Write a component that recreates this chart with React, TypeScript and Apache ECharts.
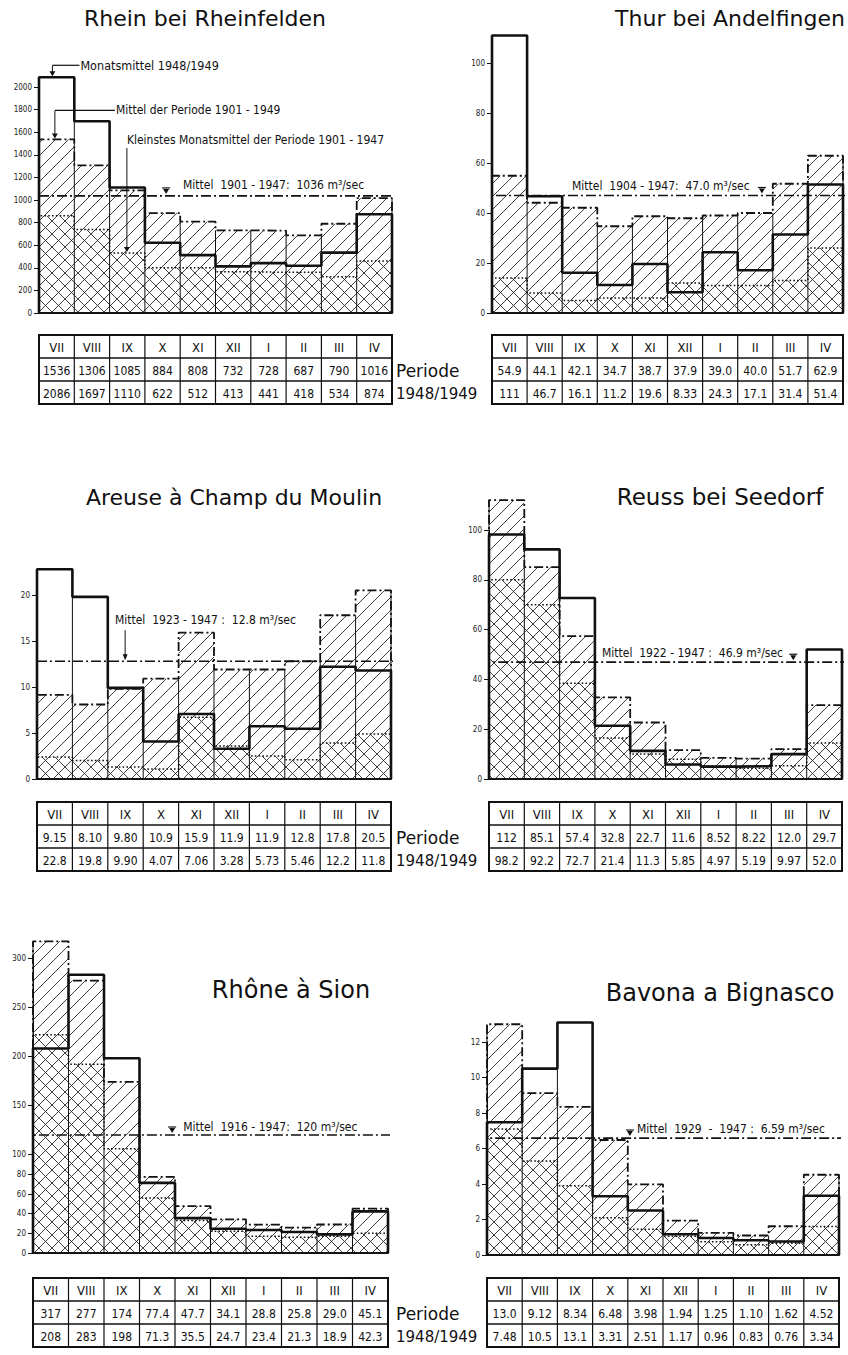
import React, { useEffect, useRef } from "react";
import * as echarts from "echarts";

// ---------- data ----------
const months = ["VII", "VIII", "IX", "X", "XI", "XII", "I", "II", "III", "IV"];

const rheinPeriode = [1536, 1306, 1085, 884, 808, 732, 728, 687, 790, 1016];
const rhein1948 = [2086, 1697, 1110, 622, 512, 413, 441, 418, 534, 874];
const rheinMin = [860, 740, 530, 400, 400, 365, 360, 360, 320, 460];
const rheinMean = 1036;
const rheinTicks = [0, 200, 400, 600, 800, 1000, 1200, 1400, 1600, 1800, 2000];

const thurPeriode = [54.9, 44.1, 42.1, 34.7, 38.7, 37.9, 39.0, 40.0, 51.7, 62.9];
const thur1948 = [111, 46.7, 16.1, 11.2, 19.6, 8.33, 24.3, 17.1, 31.4, 51.4];
const thurMin = [14, 8, 5, 6, 6, 12, 11, 11, 13, 26];
const thurMean = 47.0;
const thurTicks = [0, 20, 40, 60, 80, 100];

const areusePeriode = [9.15, 8.10, 9.80, 10.9, 15.9, 11.9, 11.9, 12.8, 17.8, 20.5];
const areuse1948 = [22.8, 19.8, 9.90, 4.07, 7.06, 3.28, 5.73, 5.46, 12.2, 11.8];
const areuseMin = [2.4, 2.0, 1.3, 1.1, 6.7, 3.6, 2.5, 2.1, 3.9, 4.9];
const areuseMean = 12.8;
const areuseTicks = [0, 5, 10, 15, 20];

const reussPeriode = [112, 85.1, 57.4, 32.8, 22.7, 11.6, 8.52, 8.22, 12.0, 29.7];
const reuss1948 = [98.2, 92.2, 72.7, 21.4, 11.3, 5.85, 4.97, 5.19, 9.97, 52.0];
const reussMin = [80, 70, 38.5, 16.5, 10, 7.9, 5.2, 4.3, 5.3, 14.5];
const reussMean = 46.9;
const reussTicks = [0, 20, 40, 60, 80, 100];

const rhonePeriode = [317, 277, 174, 77.4, 47.7, 34.1, 28.8, 25.8, 29.0, 45.1];
const rhone1948 = [208, 283, 198, 71.3, 35.5, 24.7, 23.4, 21.3, 18.9, 42.3];
const rhoneMin = [222, 192, 106, 56, 33, 22, 17, 16, 17, 20];
const rhoneMean = 120;
const rhoneTicks = [0, 20, 40, 60, 80, 100, 150, 200, 250, 300];

const bavonaPeriode = [13.0, 9.12, 8.34, 6.48, 3.98, 1.94, 1.25, 1.10, 1.62, 4.52];
const bavona1948 = [7.48, 10.5, 13.1, 3.31, 2.51, 1.17, 0.96, 0.83, 0.76, 3.34];
const bavonaMin = [7.1, 5.3, 3.9, 2.1, 1.45, 1.05, 0.75, 0.58, 0.66, 1.6];
const bavonaMean = 6.59;
const bavonaTicks = [0, 2, 4, 6, 8, 10, 12];

const rowLabels = ["Periode", "1948/1949"];

// ---------- style ----------
const FONT_C = "'DejaVu Sans Condensed', 'Liberation Sans Narrow', 'DejaVu Sans', sans-serif";
const FONT_T = "'DejaVu Sans', sans-serif";
const INK = "#111";

const fmt = (v: number) => (v >= 100 ? v.toFixed(0) : v >= 10 ? v.toFixed(1) : v.toFixed(2));

type Panel = {
  name: string;
  periode: number[];
  y48: number[];
  min: number[];
  mean: number;
  years: string;
  ticks: number[];
  left: number;
  right: number;
  zeroY: number;
  topY: number;
  topVal: number;
  titleX: number;
  titleY: number;
  titleSize: number;
  meanFrom: number;
  meanTo: number;
  labelX: number;
  labelDy: number;
  markerX?: number;
  arrowX?: number;
  tableTop: number;
  rowH: number;
};

const panels: Panel[] = [
  {
    name: "Rhein bei Rheinfelden", periode: rheinPeriode, y48: rhein1948, min: rheinMin, mean: rheinMean,
    years: "1901 - 1947:", ticks: rheinTicks,
    left: 39, right: 392, zeroY: 313, topY: 87, topVal: 2000, titleX: 205, titleY: 18, titleSize: 22,
    meanFrom: 0, meanTo: 10.28, labelX: 4.08, labelDy: -11, markerX: 3.6, tableTop: 335, rowH: 23,
  },
  {
    name: "Thur bei Andelfingen", periode: thurPeriode, y48: thur1948, min: thurMin, mean: thurMean,
    years: "1904 - 1947:", ticks: thurTicks,
    left: 492, right: 843, zeroY: 313, topY: 63, topVal: 100, titleX: 730, titleY: 18, titleSize: 22,
    meanFrom: -0.4, meanTo: 10.14, labelX: 2.28, labelDy: -10, markerX: 7.69, tableTop: 335, rowH: 23,
  },
  {
    name: "Areuse à Champ du Moulin", periode: areusePeriode, y48: areuse1948, min: areuseMin, mean: areuseMean,
    years: "1923 - 1947 :", ticks: areuseTicks,
    left: 37, right: 391, zeroY: 779, topY: 595, topVal: 20, titleX: 234, titleY: 497, titleSize: 22,
    meanFrom: 0, meanTo: 10.25, labelX: 2.2, labelDy: -41, arrowX: 2.49, tableTop: 802, rowH: 23,
  },
  {
    name: "Reuss bei Seedorf", periode: reussPeriode, y48: reuss1948, min: reussMin, mean: reussMean,
    years: "1922 - 1947 :", ticks: reussTicks,
    left: 489, right: 842, zeroY: 779, topY: 530, topVal: 100, titleX: 720, titleY: 497, titleSize: 23,
    meanFrom: -0.25, meanTo: 10.17, labelX: 3.2, labelDy: -9, markerX: 8.62, tableTop: 802, rowH: 23,
  },
  {
    name: "Rhône à Sion", periode: rhonePeriode, y48: rhone1948, min: rhoneMin, mean: rhoneMean,
    years: "1916 - 1947:", ticks: rhoneTicks,
    left: 33, right: 388, zeroY: 1253, topY: 958, topVal: 300, titleX: 291, titleY: 990, titleSize: 24,
    meanFrom: -0.34, meanTo: 10.34, labelX: 4.23, labelDy: -8, markerX: 3.92, tableTop: 1278, rowH: 23,
  },
  {
    name: "Bavona a Bignasco", periode: bavonaPeriode, y48: bavona1948, min: bavonaMin, mean: bavonaMean,
    years: "1929  -  1947 :", ticks: bavonaTicks,
    left: 487, right: 839, zeroY: 1255, topY: 1042, topVal: 12, titleX: 720, titleY: 993, titleSize: 24,
    meanFrom: -0.28, meanTo: 10.26, labelX: 4.26, labelDy: -9.5, markerX: 4.06, tableTop: 1278, rowH: 23,
  },
];

// ---------- helpers ----------
function hatch(xa: number, ya: number, xb: number, yb: number, s: number, dir: number): string {
  if (yb - ya < 0.5 || xb - xa < 0.5) return "";
  let d = "";
  if (dir > 0) {
    for (let k = Math.ceil((xa + ya) / s) * s; k <= xb + yb; k += s) {
      const lo = Math.max(xa, k - yb);
      const hi = Math.min(xb, k - ya);
      if (hi - lo > 0.4) d += `M${lo.toFixed(1)} ${(k - lo).toFixed(1)}L${hi.toFixed(1)} ${(k - hi).toFixed(1)}`;
    }
  } else {
    for (let k = Math.ceil((ya - xb) / s) * s; k <= yb - xa; k += s) {
      const lo = Math.max(xa, ya - k);
      const hi = Math.min(xb, yb - k);
      if (hi - lo > 0.4) d += `M${lo.toFixed(1)} ${(lo + k).toFixed(1)}L${hi.toFixed(1)} ${(hi + k).toFixed(1)}`;
    }
  }
  return d;
}

const stepData = (v: number[]) => [[0, 0], ...v.map((y, i) => [i, y]), [10, v[v.length - 1]], [10, 0]];

function textEl(x: number, y: number, text: string, font: string, align = "left", extra: any = {}) {
  return {
    type: "text",
    x,
    y,
    silent: true,
    style: {
      text,
      font,
      fill: INK,
      align,
      textAlign: align,
      verticalAlign: "middle",
      textVerticalAlign: "middle",
      ...extra,
    },
  };
}

function lineEl(x1: number, y1: number, x2: number, y2: number, w = 1) {
  return { type: "line", silent: true, shape: { x1, y1, x2, y2 }, style: { stroke: INK, lineWidth: w } };
}

function buildOption() {
  const grid: any[] = [];
  const xAxis: any[] = [];
  const yAxis: any[] = [];
  const series: any[] = [];
  const graphic: any[] = [];

  panels.forEach((p, pi) => {
    grid.push({ left: p.left, top: p.topY, width: p.right - p.left, height: p.zeroY - p.topY });
    xAxis.push({
      type: "value", gridIndex: pi, min: 0, max: 10,
      axisLine: { show: true, lineStyle: { color: INK, width: 2.2 } },
      axisTick: { show: false }, axisLabel: { show: false }, splitLine: { show: false },
    });
    yAxis.push({
      type: "value", gridIndex: pi, min: 0, max: p.topVal,
      axisLine: { show: true, lineStyle: { color: INK, width: 1 } },
      axisTick: { show: true, length: 5, customValues: p.ticks, lineStyle: { color: INK, width: 1 } },
      axisLabel: {
        show: true, customValues: p.ticks, fontSize: 8, color: "#222", fontFamily: FONT_C, margin: 7,
        formatter: (v: number) => String(v),
      },
      splitLine: { show: false },
    });

    const top = (j: number) => Math.max(p.periode[j], p.y48[j], p.min[j]);

    // hatching + thin dividers
    series.push({
      type: "custom", xAxisIndex: pi, yAxisIndex: pi, silent: true, z: 1,
      data: months.map((_, i) => [i, p.periode[i], p.y48[i], p.min[i]]),
      encode: { x: 0, y: [1, 2, 3] },
      renderItem: (params: any, api: any) => {
        const i = api.value(0) as number;
        const [x0, yb] = api.coord([i, 0]);
        const x1 = api.coord([i + 1, 0])[0];
        const yP = api.coord([i, Math.max(p.periode[i], p.min[i])])[1];
        const yM = api.coord([i, p.min[i]])[1];
        const d = hatch(x0, yP, x1, yb, 13, 1) + hatch(x0, yM, x1, yb, 13, -1);
        const children: any[] = [];
        if (d) children.push({ type: "path", shape: { pathData: d }, style: { stroke: "#1e1e1e", lineWidth: 0.85, fill: "none" } });
        const leftTop = i === 0 ? top(0) : Math.min(top(i - 1), top(i));
        const yl = api.coord([i, leftTop])[1];
        children.push({ type: "line", shape: { x1: x0, y1: yb, x2: x0, y2: yl }, style: { stroke: INK, lineWidth: 1 } });
        if (i === months.length - 1) {
          const yr = api.coord([i, top(i)])[1];
          children.push({ type: "line", shape: { x1: x1, y1: yb, x2: x1, y2: yr }, style: { stroke: INK, lineWidth: 1 } });
        }
        return { type: "group", children };
      },
    });

    // smallest monthly mean (dotted)
    series.push({
      type: "line", xAxisIndex: pi, yAxisIndex: pi, data: stepData(p.min), step: "end", symbol: "none",
      clip: false, silent: true, z: 3, lineStyle: { color: INK, width: 1.5, type: [1.6, 2.2] },
    });
    // period mean (dash-dot)
    series.push({
      type: "line", xAxisIndex: pi, yAxisIndex: pi, data: stepData(p.periode), step: "end", symbol: "none",
      clip: false, silent: true, z: 4, lineStyle: { color: INK, width: 1.8, type: [9, 3, 2, 3] },
    });
    // 1948/1949 (thick)
    series.push({
      type: "line", xAxisIndex: pi, yAxisIndex: pi, data: stepData(p.y48), step: "end", symbol: "none",
      clip: false, silent: true, z: 5, lineStyle: { color: INK, width: 2.6 },
    });
    // long-term mean line
    series.push({
      type: "line", xAxisIndex: pi, yAxisIndex: pi, data: [[p.meanFrom, p.mean], [p.meanTo, p.mean]], symbol: "none",
      clip: false, silent: true, z: 6, lineStyle: { color: INK, width: 1.7, type: [10, 3, 2, 3] },
    });
    // mean label + marker
    series.push({
      type: "custom", xAxisIndex: pi, yAxisIndex: pi, silent: true, z: 7,
      data: [[p.labelX, p.mean]],
      renderItem: (params: any, api: any) => {
        const [lx, ly] = api.coord([p.labelX, p.mean]);
        const ty = ly + p.labelDy;
        const children: any[] = [
          textEl(lx, ty, `Mittel  ${p.years}  ${fmt(p.mean)} m³/sec`, `12px ${FONT_C}`),
        ];
        if (p.arrowX !== undefined) {
          const [ax, ay] = api.coord([p.arrowX, p.mean]);
          children.push(lineEl(ax, ty + 10, ax, ay - 4, 1));
          children.push({ type: "polygon", shape: { points: [[ax - 2.5, ay - 7], [ax + 2.5, ay - 7], [ax, ay - 1]] }, style: { fill: INK } });
        } else if (p.markerX !== undefined) {
          const [mx, my] = api.coord([p.markerX, p.mean]);
          children.push({ type: "polygon", shape: { points: [[mx - 3, my - 7], [mx + 3, my - 7], [mx, my - 2]] }, style: { fill: INK } });
          children.push(lineEl(mx - 4, my - 8, mx + 4, my - 8, 1.2));
        }
        return { type: "group", children };
      },
    });

    // title
    graphic.push(textEl(p.titleX, p.titleY, p.name, `${p.titleSize}px ${FONT_T}`, "center"));

    // table
    const t0 = p.tableTop;
    const h = p.rowH;
    const w = p.right - p.left;
    const colX = (k: number) => p.left + (w * k) / 10;
    graphic.push({
      type: "rect", silent: true, shape: { x: p.left, y: t0, width: w, height: h * 3 },
      style: { fill: "none", stroke: INK, lineWidth: 2 },
    });
    graphic.push(lineEl(p.left, t0 + h, p.right, t0 + h, 1.6));
    graphic.push(lineEl(p.left, t0 + 2 * h, p.right, t0 + 2 * h, 1.6));
    for (let k = 1; k < 10; k++) graphic.push(lineEl(colX(k), t0, colX(k), t0 + 3 * h, 1.2));
    months.forEach((m, i) => {
      const cx = (colX(i) + colX(i + 1)) / 2;
      graphic.push(textEl(cx, t0 + h / 2 + 1, m, `13px ${FONT_C}`, "center"));
      graphic.push(textEl(cx, t0 + 1.5 * h + 1, fmt(p.periode[i]), `12px ${FONT_C}`, "center"));
      graphic.push(textEl(cx, t0 + 2.5 * h + 1, fmt(p.y48[i]), `12px ${FONT_C}`, "center"));
    });
    if (pi % 2 === 0) {
      graphic.push(textEl(396, t0 + 1.5 * h + 1, rowLabels[0], `17px ${FONT_T}`, "left"));
      graphic.push(textEl(396, t0 + 2.5 * h + 1, rowLabels[1], `15px ${FONT_T}`, "left"));
    }
  });

  // Rhein legend annotations (panel 0)
  const r = panels[0];
  series.push({
    type: "custom", xAxisIndex: 0, yAxisIndex: 0, silent: true, z: 8,
    data: [[0, r.y48[0]]],
    renderItem: (params: any, api: any) => {
      const children: any[] = [];
      const [ax, ay] = api.coord([0.38, r.y48[0]]);
      children.push(lineEl(ax, ay - 12, ax, ay - 4, 1));
      children.push({ type: "polygon", shape: { points: [[ax - 3, ay - 6], [ax + 3, ay - 6], [ax, ay - 1]] }, style: { fill: INK } });
      children.push(lineEl(ax, ay - 12, ax + 27, ay - 12, 1.2));
      children.push(textEl(ax + 28, ay - 12, "Monatsmittel 1948/1949", `12.5px ${FONT_C}`));

      const [bx, by] = api.coord([0.45, r.periode[0]]);
      children.push(lineEl(bx, by - 29, bx, by - 4, 1));
      children.push({ type: "polygon", shape: { points: [[bx - 3, by - 6], [bx + 3, by - 6], [bx, by - 1]] }, style: { fill: INK } });
      children.push(lineEl(bx, by - 29, bx + 60, by - 29, 1.2));
      children.push(textEl(bx + 61, by - 29, "Mittel der Periode 1901 - 1949", `12px ${FONT_C}`));

      const [cx, cy] = api.coord([2.49, r.min[2]]);
      children.push(lineEl(cx, cy - 105, cx, cy - 4, 1));
      children.push({ type: "polygon", shape: { points: [[cx - 3, cy - 6], [cx + 3, cy - 6], [cx, cy - 1]] }, style: { fill: INK } });
      children.push(textEl(cx, cy - 113, "Kleinstes Monatsmittel der Periode 1901 - 1947", `12px ${FONT_C}`));
      return { type: "group", children };
    },
  });

  return {
    animation: false,
    backgroundColor: "#fff",
    grid,
    xAxis,
    yAxis,
    series,
    graphic,
  };
}

export default function App() {
  const ref = useRef<HTMLDivElement>(null);
  useEffect(() => {
    const chart = echarts.init(ref.current as HTMLDivElement, undefined, { renderer: "svg" });
    chart.setOption(buildOption() as any);
    return () => chart.dispose();
  }, []);
  return (
    <div
      ref={ref}
      style={{ position: "absolute", left: 0, top: 0, width: 848, height: 1355, background: "#fff" }}
    />
  );
}
